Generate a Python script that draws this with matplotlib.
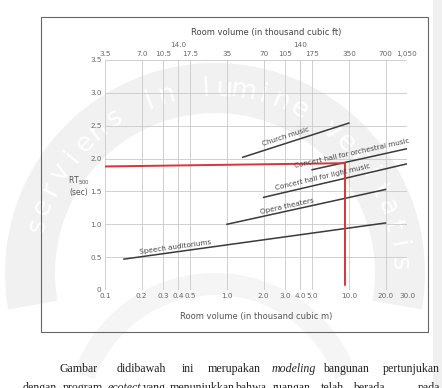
import numpy as np
import matplotlib.pyplot as plt
from matplotlib.patches import Wedge, Rectangle
from matplotlib.transforms import IdentityTransform

W, H = 442, 388

# bottom axis: room volume in thousand cubic m
x_ticks = [0.1, 0.2, 0.3, 0.4, 0.5, 1.0, 2.0, 3.0, 4.0, 5.0, 10.0, 20.0, 30.0]
x_labels = ['0.1', '0.2', '0.3', '0.4', '0.5', '1.0', '2.0', '3.0', '4.0', '5.0',
            '10.0', '20.0', '30.0']
# top axis: same positions in thousand cubic ft
ft_labels = ['3.5', '7.0', '10.5', '14.0', '17.5', '35', '70', '105', '140', '175',
             '350', '700', '1,050']
ft_raised = ['14.0', '140']
y_ticks = [0, 0.5, 1.0, 1.5, 2.0, 2.5, 3.0, 3.5]
y_labels = ['0', '0.5', '1.0', '1.5', '2.0', '2.5', '3.0', '3.5']

uses = ['Speech auditoriums', 'Opera theaters', 'Concert hall for light music',
        'Concert hall for orchestral music', 'Church music']
use_vol = [[0.143, 20], [1.0, 20], [2.0, 30], [5.0, 30], [1.35, 10]]
use_rt = [[0.47, 1.02], [1.0, 1.53], [1.41, 1.92], [1.83, 2.15], [2.02, 2.54]]
label_vol = [0.375, 3.1, 6.1, 10.6, 3.05]
label_rt = [0.655, 1.28, 1.72, 2.085, 2.33]

# red reading line (~9.3 thousand m3 -> ~1.9 s)
red_vol = [0.1, 9.3, 9.3]
red_rt = [1.88, 1.93, 0.08]

watermark = 'serviens in lumine veritatis'
line1 = ['Gambar', 'didibawah', 'ini', 'merupakan', 'modeling', 'bangunan', 'pertunjukan']
line1_x = [59, 117, 182, 208, 272, 323, 440]
line2 = ['dengan', 'program', 'ecotect', 'yang', 'menunjukkan', 'bahwa', 'ruangan',
         'telah', 'berada', 'pada']
line2_x = [23, 63, 108, 143, 170, 235, 273, 321, 353, 440]


def fpx(x, y):
    return x / W, 1 - y / H


fig = plt.figure(figsize=(W / 100, H / 100), dpi=100)
fig.patch.set_facecolor('white')

# faint watermark band with white lettering
cx, cy = 215, H - 273
fig.add_artist(Wedge((cx, cy), 210, -10, 190, width=50, transform=IdentityTransform(),
                     facecolor='#f1f1f1', edgecolor='none', zorder=-3))
fig.add_artist(Wedge((cx, cy - 150), 150, 20, 160, width=22, transform=IdentityTransform(),
                     facecolor='#f5f5f5', edgecolor='none', zorder=-3))
angs = np.linspace(165, 3, len(watermark))
for ch, a in zip(watermark, angs):
    t = np.radians(a)
    fig.text(cx + 184 * np.cos(t), cy + 184 * np.sin(t), ch, transform=IdentityTransform(),
             rotation=a - 90, ha='center', va='center', fontsize=19, color='white',
             rotation_mode='anchor', zorder=-2)

# frame around the chart
fig.add_artist(Rectangle((41, H - 332), 387, 315, transform=IdentityTransform(),
                         fill=False, edgecolor='#666666', lw=0.8))
fig.add_artist(Rectangle((433, 0), 9, H, transform=IdentityTransform(),
                         facecolor='#f0f0f0', edgecolor='none'))

ax = fig.add_axes([105 / W, 1 - 290 / H, 302 / W, 230 / H])
ax.set_facecolor('none')
ax.set_xscale('log')
ax.set_xlim(0.1, 30)
ax.set_ylim(0, 3.5)
ax.set_xticks(x_ticks)
ax.set_xticklabels(x_labels)
ax.xaxis.set_minor_locator(plt.NullLocator())
ax.set_yticks(y_ticks)
ax.set_yticklabels(y_labels)
for s in ax.spines.values():
    s.set_visible(False)
ax.tick_params(length=0, labelsize=5.2, labelcolor='#666666', pad=2.5)
ax.grid(True, color='#c9c9c9', lw=0.6)
ax.xaxis.get_gridlines()[-1].set_visible(False)
ax.set_xlabel('Room volume (in thousand cubic m)', fontsize=6, color='#555555', labelpad=9)

sec = ax.secondary_xaxis('top', functions=(lambda v: v * 35, lambda v: v / 35))
sec.set_xticks([v * 35 for v in x_ticks])
sec.set_xticklabels(['' if l in ft_raised else l for l in ft_labels])
sec.xaxis.set_minor_locator(plt.NullLocator())
sec.tick_params(length=0, labelsize=5.2, labelcolor='#666666', pad=2.5)
for s in sec.spines.values():
    s.set_visible(False)
for v, l in zip(x_ticks, ft_labels):
    if l in ft_raised:
        ax.text(v, 1.0 + 12 / 230, l, transform=ax.get_xaxis_transform(), ha='center',
                va='bottom', fontsize=5.2, color='#666666')
fig.text(*fpx(266, 33), 'Room volume (in thousand cubic ft)', ha='center', va='center',
         fontsize=6, color='#444444')

fig.text(*fpx(79, 186), 'RT$_{500}$\n(sec)', ha='center', va='center', fontsize=5.5,
         color='#555555', linespacing=1.1)

for name, xv, yv, lx, ly in zip(uses, use_vol, use_rt, label_vol, label_rt):
    ax.plot(xv, yv, color='#3a3a3a', lw=1.1)
    p0 = ax.transData.transform((xv[0], yv[0]))
    p1 = ax.transData.transform((xv[1], yv[1]))
    ang = np.degrees(np.arctan2(p1[1] - p0[1], p1[0] - p0[0]))
    ax.text(lx, ly, name, rotation=ang, ha='center', va='center', rotation_mode='anchor',
            fontsize=5.2, color='#444444')

ax.plot(red_vol, red_rt, color='#d8343a', lw=1.4, solid_joinstyle='miter')

serif = 'Liberation Serif'
for line, xs, y, ital in [(line1, line1_x, 372, 'modeling'), (line2, line2_x, 391, 'ecotect')]:
    for i, (w, x) in enumerate(zip(line, xs)):
        fig.text(*fpx(x, y), w, ha='right' if i == len(line) - 1 else 'left',
                 va='baseline', fontsize=8.6, family=serif, color='#222222',
                 style='italic' if w == ital else 'normal')

fig.savefig('out.png', dpi=100)
